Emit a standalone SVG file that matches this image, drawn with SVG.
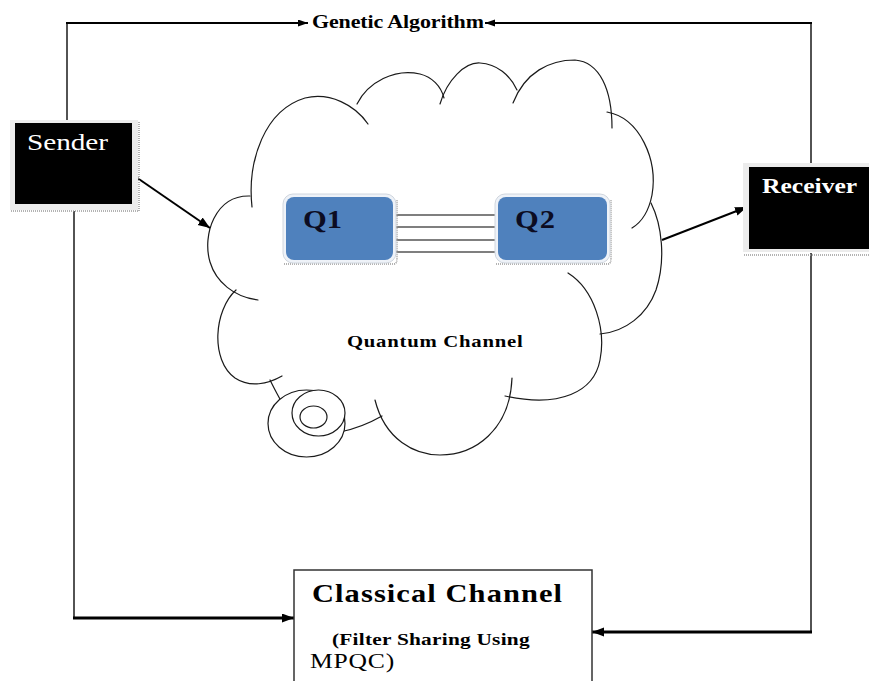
<svg xmlns="http://www.w3.org/2000/svg" width="869" height="681" viewBox="0 0 869 681">
  <style>
    .serif { font-family: "Liberation Serif", "Times New Roman", serif; }
    .b { font-weight: bold; }
    .wire { fill: none; stroke: #1a1a1a; stroke-width: 1.5; }
    .bold-wire { fill: none; stroke: #000; stroke-width: 3; }
    .top-wire { fill: none; stroke: #000; stroke-width: 2; }
    .cloud { fill: none; stroke: #1a1a1a; stroke-width: 1.2; stroke-linecap: round; }
    .qbox { fill: #4f81bd; }
    .qframe { fill: #eef2f8; stroke: #d0d6de; stroke-width: 1; }
    .shadow { fill: none; stroke: #9a9a9a; stroke-width: 1.5; stroke-dasharray: 1 1; }
  </style>
  <defs>
    <marker id="arr" markerUnits="userSpaceOnUse" markerWidth="13" markerHeight="10" refX="12" refY="4.5" orient="auto">
      <path d="M0,0 L12,4.5 L0,9 z" fill="#000"/>
    </marker>
    <marker id="arrSm" markerUnits="userSpaceOnUse" markerWidth="11" markerHeight="8" refX="10" refY="3.5" orient="auto">
      <path d="M0,0 L10,3.5 L0,7 z" fill="#000"/>
    </marker>
  </defs>

  <rect width="869" height="681" fill="#fff"/>

  <!-- quantum channel cloud -->
  <g id="quantum-channel">
    <path class="cloud" d="M252,207 C247,160 265,110 305,98 C330,92 355,105 368,124"/>
    <path class="cloud" d="M357,104 C368,82 395,68 420,74 C432,77 441,86 444,98"/>
    <path class="cloud" d="M440,104 C447,80 465,62 480,63 C497,64 510,75 517,90"/>
    <path class="cloud" d="M513,103 C525,72 550,60 575,60 C600,62 612,90 612,128"/>
    <path class="cloud" d="M607,112 C640,118 658,160 652,195 C649,210 642,222 632,228"/>
    <path class="cloud" d="M651,203 C662,225 666,260 656,290 C647,315 625,332 600,334"/>
    <path class="cloud" d="M568,273 C595,290 606,330 600,360 C594,392 560,408 505,396"/>
    <path class="cloud" d="M375,400 C385,440 415,455 440,455 C475,455 510,430 512,378"/>
    <path class="cloud" d="M270,380 C285,410 300,440 340,432 C355,429 368,424 382,416"/>
    <path class="cloud" d="M236,290 C214,310 210,360 235,378 C250,388 268,384 282,376"/>
    <path class="cloud" d="M250,196 C215,195 202,235 210,262 C216,282 234,297 258,300"/>
    <!-- thought-bubble tail -->
    <ellipse cx="306.5" cy="423.5" rx="38.5" ry="33.5" fill="#fff" stroke="#1a1a1a" stroke-width="1.2"/>
    <ellipse cx="318.5" cy="413" rx="26.5" ry="23" fill="#fff" stroke="#1a1a1a" stroke-width="1.2"/>
    <ellipse cx="313.5" cy="417" rx="13.5" ry="11" fill="none" stroke="#1a1a1a" stroke-width="1.2"/>
    <text class="serif b" transform="translate(347,347) scale(1.22,1)" font-size="17" textLength="144" lengthAdjust="spacing" fill="#000">Quantum Channel</text>
  </g>

  <g id="connectors">
    <!-- quantum links between Q1 and Q2 -->
    <g stroke="#000" stroke-width="1.2">
      <line x1="395" y1="215" x2="497" y2="215"/>
      <line x1="395" y1="227" x2="497" y2="227"/>
      <line x1="395" y1="240" x2="497" y2="240"/>
      <line x1="395" y1="252" x2="497" y2="252"/>
    </g>
    <!-- genetic algorithm feedback loop -->
    <polyline class="wire" points="67,120 67,23"/>
    <polyline class="top-wire" points="66,23 308,23" marker-end="url(#arrSm)"/>
    <polyline class="wire" points="811,163 811,23"/>
    <polyline class="top-wire" points="812,23 485,23" marker-end="url(#arrSm)"/>
    <!-- sender / receiver to quantum channel -->
    <line class="top-wire" x1="133" y1="175" x2="210" y2="228" marker-end="url(#arr)"/>
    <line class="top-wire" x1="662" y1="240" x2="747" y2="207" marker-end="url(#arr)"/>
    <!-- classical channel feeds -->
    <polyline class="wire" points="74,211 74,618"/>
    <polyline class="bold-wire" points="73,618 294,618" marker-end="url(#arr)"/>
    <polyline class="wire" points="811,253 811,632"/>
    <polyline class="bold-wire" points="812,632 592,632" marker-end="url(#arr)"/>
  </g>

  <g id="genetic-algorithm">
    <text class="serif b" transform="translate(312,28) scale(1.22,1)" font-size="18" textLength="141" lengthAdjust="spacing" fill="#000">Genetic Algorithm</text>
  </g>

  <g id="sender">
    <rect x="10" y="120" width="128" height="90" fill="#ececec"/>
    <path class="shadow" d="M11,211 H139 V121"/>
    <rect x="15" y="123" width="117" height="81" fill="#000"/>
    <text class="serif" transform="translate(27,150) scale(1.22,1)" font-size="24" textLength="66.4" lengthAdjust="spacing" fill="#fff">Sender</text>
  </g>

  <g id="receiver">
    <rect x="743" y="163" width="126" height="89" fill="#ececec"/>
    <path class="shadow" d="M744,255 H869"/>
    <rect x="749" y="167" width="120" height="82" fill="#000"/>
    <text class="serif b" transform="translate(762,193) scale(1.22,1)" font-size="21" textLength="78" lengthAdjust="spacing" fill="#fff">Receiver</text>
  </g>

  <g id="q1">
    <path class="shadow" d="M284,264 H394 Q397,264 397,258 V200"/>
    <rect class="qframe" x="283" y="194" width="113" height="69" rx="10"/>
    <rect class="qbox" x="286" y="197" width="107" height="63" rx="8"/>
    <text class="serif b" transform="translate(303,228) scale(1.22,1)" font-size="25" textLength="32" lengthAdjust="spacing" fill="#0c0c22">Q1</text>
  </g>

  <g id="q2">
    <path class="shadow" d="M496,264 H608 Q611,264 611,258 V200"/>
    <rect class="qframe" x="495" y="194" width="115" height="69" rx="10"/>
    <rect class="qbox" x="498" y="197" width="109" height="63" rx="8"/>
    <text class="serif b" transform="translate(515,228) scale(1.22,1)" font-size="25" textLength="32.8" lengthAdjust="spacing" fill="#0c0c22">Q2</text>
  </g>

  <g id="classical-channel">
    <rect x="294" y="570" width="298" height="130" fill="#fff" stroke="#333" stroke-width="1.5"/>
    <text class="serif b" transform="translate(312,602) scale(1.22,1)" font-size="25" textLength="205" lengthAdjust="spacing" fill="#000">Classical Channel</text>
    <text class="serif b" transform="translate(332,645) scale(1.22,1)" font-size="17.5" textLength="162" lengthAdjust="spacing" fill="#000">(Filter Sharing Using</text>
    <text class="serif" transform="translate(310,668) scale(1.22,1)" font-size="21" textLength="69" lengthAdjust="spacing" fill="#000">MPQC)</text>
  </g>
</svg>
